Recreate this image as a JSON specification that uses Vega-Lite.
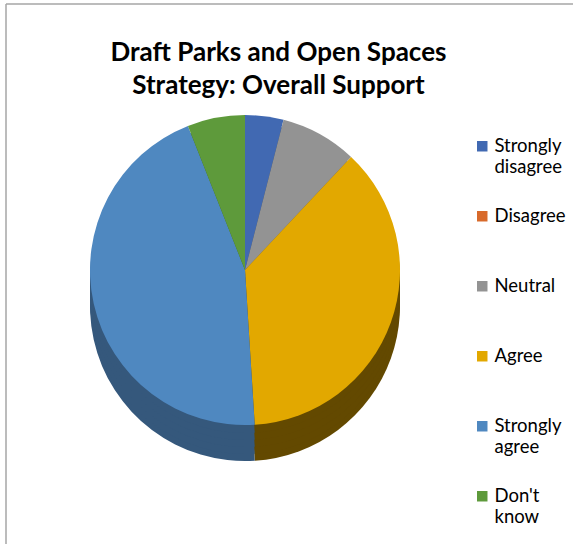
{
  "$schema": "https://vega.github.io/schema/vega-lite/v6.json",
  "width": 567,
  "height": 554,
  "autosize": "none",
  "padding": {"left": 6, "top": 4, "right": 0, "bottom": 0},
  "background": "white",
  "config": {"view": {"stroke": null}, "font": "Lato"},
  "title": {
    "text": ["Draft Parks and Open Spaces", "Strategy: Overall Support"],
    "font": "Lato",
    "fontSize": 26,
    "fontWeight": "bold",
    "color": "#000000",
    "anchor": "middle",
    "lineHeight": 33,
    "offset": -96,
    "dx": -11
  },
  "data": {
    "values": [
      {"cat": "Strongly disagree", "v": 4, "k": 1},
      {"cat": "Disagree", "v": 0, "k": 2},
      {"cat": "Neutral", "v": 8, "k": 3},
      {"cat": "Agree", "v": 37, "k": 4},
      {"cat": "Strongly agree", "v": 45, "k": 5},
      {"cat": "Don't know", "v": 6, "k": 6}
    ]
  },
  "layer": [
    {"data": {"values": [{}]}, "mark": {"type": "rect", "fill": null, "stroke": "#a6a6a6", "strokeWidth": 1.5, "strokeDash": [567, 1135, 540, 0]}, "encoding": {}},
    {"mark": {"type": "arc", "radius": 155, "xOffset": -44.5, "yOffset": 25},
     "encoding": {"theta": {"field": "v", "type": "quantitative", "stack": true}, "order": {"field": "k"},
       "fill": {"field": "cat", "type": "nominal", "legend": null, "scale": {"domain": ["Don't know", "Strongly agree", "Agree", "Neutral", "Disagree", "Strongly disagree"], "range": ["#3a6024", "#35587c", "#634900", "#5a5a5a", "#8a3f18", "#27406e"]}}}},
    {"mark": {"type": "arc", "radius": 155, "xOffset": -44.5, "yOffset": 18},
     "encoding": {"theta": {"field": "v", "type": "quantitative", "stack": true}, "order": {"field": "k"},
       "fill": {"field": "cat", "type": "nominal", "legend": null}}},
    {"mark": {"type": "arc", "radius": 155, "xOffset": -44.5, "yOffset": 11},
     "encoding": {"theta": {"field": "v", "type": "quantitative", "stack": true}, "order": {"field": "k"},
       "fill": {"field": "cat", "type": "nominal", "legend": null}}},
    {"mark": {"type": "arc", "radius": 155, "xOffset": -44.5, "yOffset": 4},
     "encoding": {"theta": {"field": "v", "type": "quantitative", "stack": true}, "order": {"field": "k"},
       "fill": {"field": "cat", "type": "nominal", "legend": null}}},
    {"mark": {"type": "arc", "radius": 155, "xOffset": -44.5, "yOffset": -3},
     "encoding": {"theta": {"field": "v", "type": "quantitative", "stack": true}, "order": {"field": "k"},
       "fill": {"field": "cat", "type": "nominal", "legend": null}}},
    {"mark": {"type": "arc", "radius": 155, "xOffset": -44.5, "yOffset": -11},
     "encoding": {
       "theta": {"field": "v", "type": "quantitative", "stack": true},
       "order": {"field": "k"},
       "color": {
         "field": "cat", "type": "nominal", "title": null,
         "scale": {"domain": ["Strongly disagree", "Disagree", "Neutral", "Agree", "Strongly agree", "Don't know"],
                   "range": ["#4169b2", "#d86a2b", "#939393", "#e2a800", "#4f88c0", "#5e9a3b"]},
         "legend": {
           "orient": "none", "legendX": 467, "legendY": 133,
           "symbolType": "square", "symbolSize": 110, "symbolStrokeWidth": 0,
           "labelFontSize": 18.5, "labelFont": "Lato", "labelColor": "#000000",
           "labelLineHeight": 23, "labelBaseline": "alphabetic", "labelLimit": 200,
           "labelExpr": "split(datum.label + (indexof(datum.label, ' ') < 0 ? ' ' : ''), ' ')",
           "rowPadding": 30, "labelOffset": 3,
           "encode": {"labels": {"update": {"dy": {"value": 6}}}}
         }
       }
     }}
  ]
}
